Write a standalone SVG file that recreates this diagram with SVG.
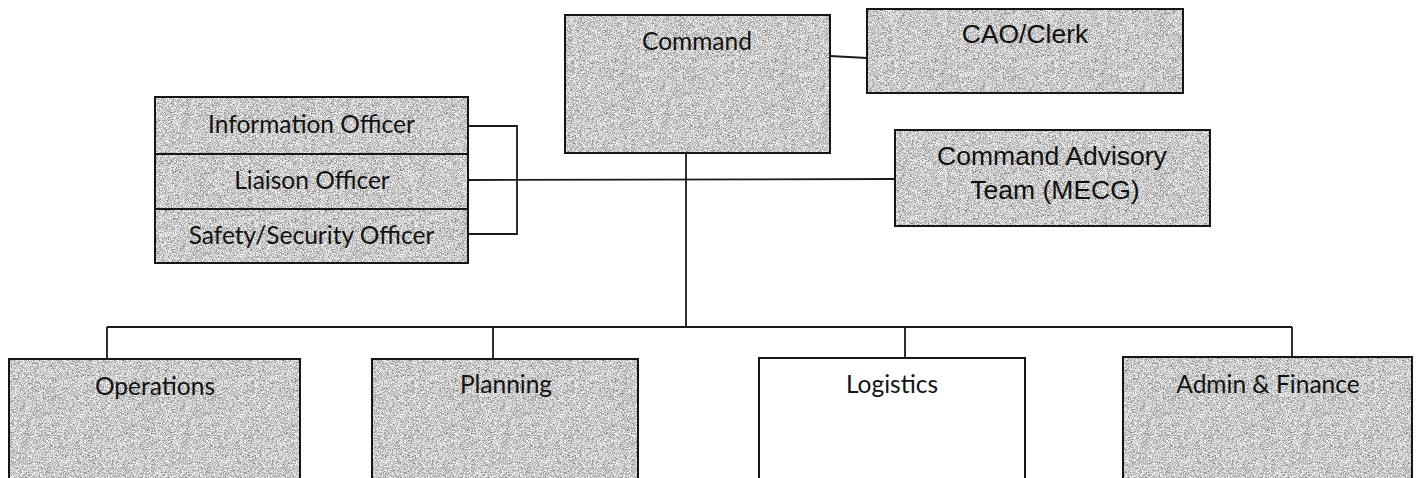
<svg xmlns="http://www.w3.org/2000/svg" width="1418" height="478" viewBox="0 0 1418 478">
  <style>
    .box { stroke: #161616; stroke-width: 2; fill: none; }
    .plain { fill: #ffffff; }
    .link { stroke: #1a1a1a; stroke-width: 1.8; fill: none; }
    .cal { font-family: Lato, "Open Sans", "Liberation Sans", sans-serif; font-size: 24.5px; fill: #131313; text-anchor: middle; }
    .ar { font-family: "Liberation Sans", Arial, sans-serif; font-size: 26.5px; fill: #111111; text-anchor: middle; }
  </style>
  <defs>
    <!-- speckled grey fill used on the shaded boxes -->
    <filter id="grain" x="0" y="0" width="1" height="1" color-interpolation-filters="sRGB">
      <feTurbulence type="fractalNoise" baseFrequency="1.6" numOctaves="2" seed="7" result="n"/>
      <feColorMatrix in="n" type="matrix" values="1.0 0 0 0 0.29  1.0 0 0 0 0.29  1.0 0 0 0 0.29  0 0 0 0 1" result="g"/>
      <feComposite in="g" in2="SourceGraphic" operator="in"/>
    </filter>
  </defs>

  <rect width="1418" height="478" fill="#ffffff"/>

  <g id="connectors">
    <path class="link" d="M830 56 L867 58"/>
    <path class="link" d="M686 153 V327"/>
    <path class="link" d="M107 327 H1292"/>
    <path class="link" d="M107 327 V359 M493 327 V359 M905 327 V358 M1292 327 V357"/>
    <path class="link" d="M468 126 H517 V234 H468"/>
    <path class="link" d="M468 180 L895 179"/>
  </g>

  <g id="command">
    <rect x="565" y="15" width="265" height="138" filter="url(#grain)"/>
    <rect class="box" x="565" y="15" width="265" height="138"/>
    <text class="cal" x="697" y="50">Command</text>
  </g>

  <g id="cao-clerk">
    <rect x="867" y="9" width="316" height="84" filter="url(#grain)"/>
    <rect class="box" x="867" y="9" width="316" height="84"/>
    <text class="ar" x="1025" y="43">CAO/Clerk</text>
  </g>

  <g id="command-advisory-team">
    <rect x="895" y="130" width="315" height="96" filter="url(#grain)"/>
    <rect class="box" x="895" y="130" width="315" height="96"/>
    <text class="ar" x="1052" y="165">Command Advisory</text>
    <text class="ar" x="1055" y="199">Team (MECG)</text>
  </g>

  <g id="information-officer">
    <rect x="155" y="97" width="313" height="57" filter="url(#grain)"/>
    <rect class="box" x="155" y="97" width="313" height="57"/>
    <text class="cal" x="311.5" y="133">Information Officer</text>
  </g>

  <g id="liaison-officer">
    <rect x="155" y="154" width="313" height="55" filter="url(#grain)"/>
    <rect class="box" x="155" y="154" width="313" height="55"/>
    <text class="cal" x="312" y="189">Liaison Officer</text>
  </g>

  <g id="safety-security-officer">
    <rect x="155" y="209" width="313" height="54" filter="url(#grain)"/>
    <rect class="box" x="155" y="209" width="313" height="54"/>
    <text class="cal" x="311.5" y="244">Safety/Security Officer</text>
  </g>

  <g id="operations">
    <rect x="9" y="359" width="291" height="130" filter="url(#grain)"/>
    <rect class="box" x="9" y="359" width="291" height="130"/>
    <text class="cal" x="155" y="395">Operations</text>
  </g>

  <g id="planning">
    <rect x="372" y="359" width="266" height="130" filter="url(#grain)"/>
    <rect class="box" x="372" y="359" width="266" height="130"/>
    <text class="cal" x="506" y="393">Planning</text>
  </g>

  <g id="logistics">
    <rect class="box plain" x="759" y="358" width="266" height="130"/>
    <text class="cal" x="892" y="393">Logistics</text>
  </g>

  <g id="admin-finance">
    <rect x="1123" y="357" width="289" height="130" filter="url(#grain)"/>
    <rect class="box" x="1123" y="357" width="289" height="130"/>
    <text class="cal" x="1268" y="393">Admin &amp; Finance</text>
  </g>
</svg>
